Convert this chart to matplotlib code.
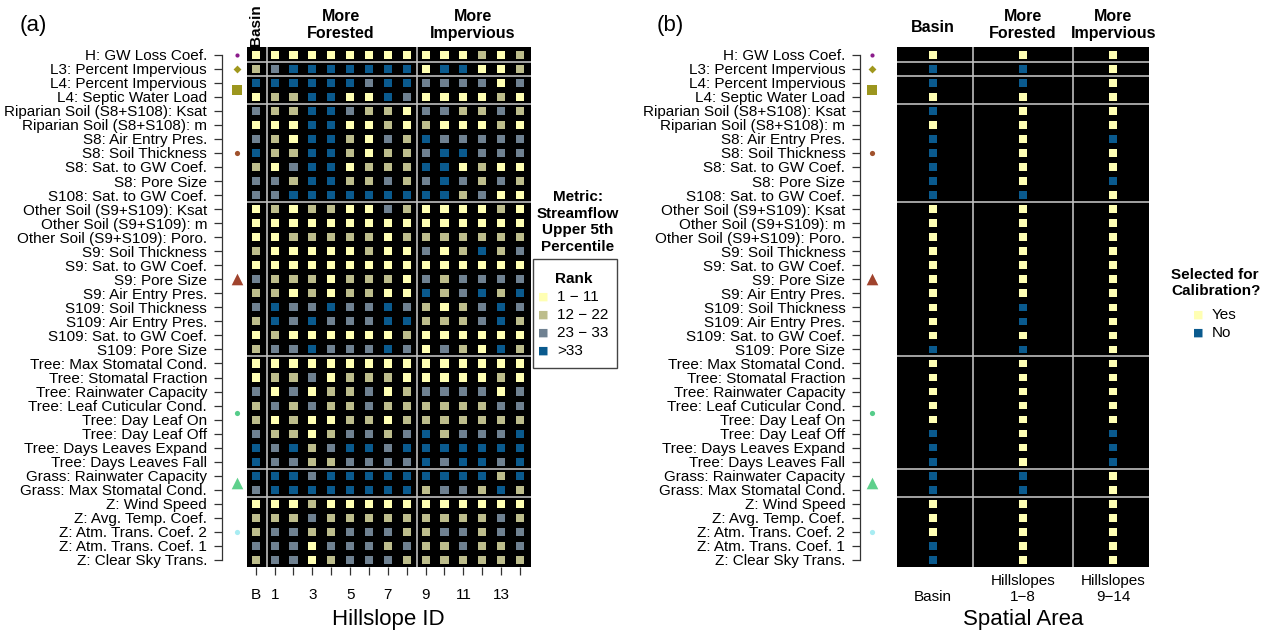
import matplotlib
matplotlib.use("Agg")
import matplotlib.pyplot as plt
import matplotlib.transforms as mtransforms
from matplotlib.patches import Rectangle

plt.rcParams['font.family'] = ['Liberation Sans', 'DejaVu Sans']

# ---- data ----
param_labels = [
    "H: GW Loss Coef.", "L3: Percent Impervious", "L4: Percent Impervious",
    "L4: Septic Water Load", "Riparian Soil (S8+S108): Ksat", "Riparian Soil (S8+S108): m",
    "S8: Air Entry Pres.", "S8: Soil Thickness", "S8: Sat. to GW Coef.", "S8: Pore Size",
    "S108: Sat. to GW Coef.", "Other Soil (S9+S109): Ksat", "Other Soil (S9+S109): m",
    "Other Soil (S9+S109): Poro.", "S9: Soil Thickness", "S9: Sat. to GW Coef.",
    "S9: Pore Size", "S9: Air Entry Pres.", "S109: Soil Thickness", "S109: Air Entry Pres.",
    "S109: Sat. to GW Coef.", "S109: Pore Size", "Tree: Max Stomatal Cond.",
    "Tree: Stomatal Fraction", "Tree: Rainwater Capacity", "Tree: Leaf Cuticular Cond.",
    "Tree: Day Leaf On", "Tree: Day Leaf Off", "Tree: Days Leaves Expand",
    "Tree: Days Leaves Fall", "Grass: Rainwater Capacity", "Grass: Max Stomatal Cond.",
    "Z: Wind Speed", "Z: Avg. Temp. Coef.", "Z: Atm. Trans. Coef. 2",
    "Z: Atm. Trans. Coef. 1", "Z: Clear Sky Trans.",
]

hillslope_ids = ['B', '1', '2', '3', '4', '5', '6', '7', '8', '9', '10', '11', '12', '13', '14']
shown_ticks = ['B', '1', '', '3', '', '5', '', '7', '', '9', '', '11', '', '13', '']

# rank class per parameter (rows) and hillslope (B, 1..14): 1 = 1-11, 2 = 12-22, 3 = 23-33, 4 = >33
rank_class = [
    [1, 1, 1, 1, 1, 1, 1, 1, 1, 1, 1, 1, 2, 1, 2],
    [2, 3, 4, 4, 4, 4, 4, 4, 4, 1, 4, 4, 1, 1, 2],
    [4, 4, 4, 4, 4, 4, 3, 4, 4, 3, 3, 3, 3, 1, 3],
    [1, 2, 2, 4, 4, 1, 1, 4, 3, 1, 1, 1, 1, 2, 1],
    [3, 2, 2, 4, 4, 3, 2, 2, 1, 3, 3, 2, 2, 3, 2],
    [1, 1, 1, 4, 4, 1, 1, 2, 1, 2, 1, 1, 1, 2, 1],
    [3, 2, 1, 4, 4, 2, 1, 3, 2, 4, 3, 3, 3, 3, 3],
    [4, 2, 2, 4, 4, 2, 1, 2, 2, 3, 4, 4, 3, 3, 3],
    [2, 1, 3, 4, 4, 1, 2, 2, 2, 4, 4, 1, 2, 1, 1],
    [3, 3, 2, 4, 4, 2, 2, 3, 2, 3, 4, 3, 2, 3, 2],
    [3, 3, 4, 4, 4, 4, 4, 4, 4, 4, 4, 2, 3, 1, 1],
    [1, 2, 1, 2, 2, 1, 1, 3, 2, 1, 1, 1, 1, 2, 1],
    [1, 1, 1, 1, 1, 1, 1, 1, 1, 1, 1, 1, 1, 1, 1],
    [1, 1, 2, 2, 2, 2, 2, 1, 2, 2, 2, 2, 2, 2, 2],
    [2, 1, 1, 1, 1, 1, 2, 1, 1, 3, 1, 2, 4, 2, 3],
    [1, 1, 1, 1, 1, 1, 1, 1, 1, 1, 1, 1, 1, 1, 1],
    [3, 2, 2, 2, 1, 2, 2, 2, 1, 3, 2, 3, 3, 3, 3],
    [2, 2, 1, 2, 1, 2, 2, 1, 1, 4, 2, 3, 4, 2, 4],
    [3, 4, 3, 3, 4, 3, 3, 4, 3, 2, 1, 2, 3, 4, 3],
    [2, 4, 3, 4, 3, 3, 3, 4, 4, 2, 2, 2, 3, 4, 2],
    [1, 2, 1, 1, 1, 1, 1, 1, 2, 1, 1, 1, 1, 1, 1],
    [2, 3, 3, 4, 3, 3, 3, 4, 3, 1, 3, 2, 1, 4, 2],
    [1, 1, 1, 1, 1, 1, 1, 1, 1, 1, 1, 1, 1, 1, 1],
    [1, 2, 2, 3, 1, 2, 2, 2, 1, 1, 1, 1, 1, 2, 1],
    [3, 1, 3, 1, 2, 2, 3, 1, 2, 3, 3, 3, 3, 1, 3],
    [2, 3, 2, 3, 2, 2, 3, 2, 2, 2, 2, 2, 2, 3, 3],
    [2, 1, 2, 1, 1, 2, 2, 1, 2, 2, 2, 2, 2, 2, 2],
    [3, 2, 2, 1, 2, 3, 3, 2, 3, 4, 2, 3, 3, 3, 4],
    [4, 3, 4, 2, 3, 4, 4, 3, 4, 4, 4, 4, 4, 4, 4],
    [4, 3, 3, 2, 2, 3, 3, 3, 3, 4, 3, 4, 4, 3, 4],
    [4, 4, 4, 3, 4, 4, 4, 4, 4, 4, 4, 4, 4, 2, 4],
    [3, 4, 4, 4, 4, 4, 4, 4, 4, 2, 3, 3, 2, 4, 2],
    [1, 1, 1, 2, 1, 1, 1, 1, 1, 1, 1, 1, 1, 1, 1],
    [2, 2, 2, 3, 2, 2, 2, 2, 2, 2, 2, 2, 2, 3, 2],
    [2, 3, 3, 2, 2, 3, 3, 3, 2, 2, 3, 3, 2, 3, 3],
    [3, 3, 3, 1, 3, 3, 3, 2, 3, 2, 2, 3, 2, 2, 3],
    [2, 3, 3, 1, 2, 3, 3, 3, 2, 2, 2, 2, 2, 2, 2],
]
rank_bins = ['1 \u2212 11', '12 \u2212 22', '23 \u2212 33', '>33']

spatial_areas = ['Basin', 'Hillslopes\n1\u22128', 'Hillslopes\n9\u221214']
# 1 = selected for calibration, 0 = not selected
selected_basin = [1, 0, 0, 1, 0, 1, 0, 0, 0, 0, 0, 1, 1, 1, 1, 1, 1, 1, 1, 1, 1, 0,
                  1, 1, 1, 1, 1, 0, 0, 0, 0, 0, 1, 1, 1, 0, 0]
selected_forested = [1, 0, 0, 1, 1, 1, 1, 1, 1, 1, 0, 1, 1, 1, 1, 1, 1, 1, 0, 0, 1, 0,
                     1, 1, 1, 1, 1, 1, 1, 1, 0, 0, 1, 1, 1, 1, 1]
selected_impervious = [1, 1, 1, 1, 1, 1, 0, 1, 1, 0, 1, 1, 1, 1, 1, 1, 1, 1, 1, 1, 1, 1,
                       1, 1, 1, 1, 1, 0, 0, 0, 1, 1, 1, 1, 1, 1, 1]
selected_labels = ['Yes', 'No']

# model component groups (row centre of each group) and group breaks
group_rows = [1, 2, 3.5, 8, 17, 26.5, 31.5, 35]
row_breaks = [1.5, 2.5, 4.5, 11.5, 22.5, 30.5, 32.5]

# ---- styles ----
rank_colors = ['#FFFFB3', '#BDBD8C', '#6F8191', '#0A5A8E']
yes_no_colors = ['#FFFFB3', '#0A5A8E']
group_markers = ['o', 'D', 's', 'o', '^', 'o', '^', 'o']
group_colors = ['#8B1C8B', '#A0981E', '#9C961E', '#A0522D', '#A0432D', '#55CC8A', '#5ED08C', '#A8ECF2']
group_sizes = [9, 16, 42, 14, 70, 14, 70, 14]
sep_color = '#BEBEBE'
axis_color = '#333333'

W, H = 1262, 635
fig = plt.figure(figsize=(W / 100, H / 100), dpi=100)


def fx(px):
    return px / W


def fy(py):
    return 1 - py / H


n_rows = len(param_labels)
rows = list(range(1, n_rows + 1))


def setup_axis(ax, outward):
    ax.set_facecolor('black')
    ax.set_ylim(n_rows + 0.48, 0.43)
    for s in ['top', 'right', 'bottom']:
        ax.spines[s].set_visible(False)
    ax.spines['left'].set_position(('outward', outward))
    ax.spines['left'].set_bounds(1, n_rows)
    ax.spines['left'].set_color(axis_color)
    ax.spines['left'].set_linewidth(0.9)
    ax.set_yticks(rows)
    ax.set_yticklabels(param_labels, fontsize=11)
    ax.tick_params(axis='y', length=5.5, width=0.9, color=axis_color, pad=5)
    for rb in row_breaks:
        ax.axhline(rb, color=sep_color, lw=1.2, zorder=1)
    trans = mtransforms.blended_transform_factory(ax.transAxes, ax.transData)
    return trans


# ---- panel (a) ----
axA = fig.add_axes([fx(246.7), fy(566.7), (530.7 - 246.7) / W, (566.7 - 46.7) / H])
transA = setup_axis(axA, 18)
axA.set_xlim(-0.48, 14.57)
for xb in [0.58, 8.53]:
    axA.axvline(xb, color=sep_color, lw=1.2, zorder=1)

xs, ys, cs = [], [], []
for i, row in enumerate(rank_class):
    for j, rc in enumerate(row):
        xs.append(j)
        ys.append(i + 1)
        cs.append(rank_colors[rc - 1])
axA.scatter(xs, ys, c=cs, marker='s', s=34, linewidths=0, zorder=3)

axA.set_xticks(range(len(hillslope_ids)))
axA.set_xticklabels(shown_ticks, fontsize=11)
axA.tick_params(axis='x', length=5.5, width=0.9, color=axis_color, pad=10)

for r, m, c, s in zip(group_rows, group_markers, group_colors, group_sizes):
    axA.scatter([-0.033], [r], marker=m, color=c, s=s, linewidths=0,
                transform=transA, clip_on=False, zorder=4)

topA = mtransforms.blended_transform_factory(axA.transData, axA.transAxes)
ytop = (566.7 - 25) / 520
axA.text(0, ytop, 'Basin', rotation=90, ha='center', va='center', fontsize=11,
         fontweight='bold', transform=topA)
axA.text(4.5, ytop, 'More\nForested', ha='center', va='center', fontsize=11.5,
         fontweight='bold', transform=topA, linespacing=1.15)
axA.text(11.5, ytop, 'More\nImpervious', ha='center', va='center', fontsize=11.5,
         fontweight='bold', transform=topA, linespacing=1.15)

fig.text(fx(20), fy(25), '(a)', fontsize=16, ha='left', va='center')
fig.text(fx(388.7), fy(620), 'Hillslope ID', fontsize=16, ha='center', va='center')

# rank legend
fig.text(fx(578), fy(222), 'Metric:\nStreamflow\nUpper 5th\nPercentile', fontsize=11,
         fontweight='bold', ha='center', va='center', linespacing=1.22)
fig.patches.append(Rectangle((fx(532.7), fy(368)), (616.7 - 532.7) / W, (368 - 259) / H,
                             transform=fig.transFigure, fill=False, edgecolor='#444444', lw=1))
fig.text(fx(574), fy(279), 'Rank', fontsize=11, fontweight='bold', ha='center', va='center')
for k, (lab, col) in enumerate(zip(rank_bins, rank_colors)):
    yy = 297 + k * 18
    fig.text(fx(543), fy(yy), '\u25A0', color=col, fontsize=8, ha='center', va='center',
             family='DejaVu Sans')
    fig.text(fx(557), fy(yy), lab, fontsize=11, ha='left', va='center')

# ---- panel (b) ----
axB = fig.add_axes([fx(896.7), fy(566.7), (1149.3 - 896.7) / W, (566.7 - 46.7) / H])
transB = setup_axis(axB, 26.5)
axB.set_xlim(0.601, 3.399)
for xb in [1.443, 2.554]:
    axB.axvline(xb, color=sep_color, lw=1.2, zorder=1)

for k, sel in enumerate([selected_basin, selected_forested, selected_impervious]):
    cols = [yes_no_colors[0] if v == 1 else yes_no_colors[1] for v in sel]
    axB.scatter([k + 1] * len(sel), rows, c=cols, marker='s', s=30, linewidths=0, zorder=3)

axB.set_xticks([1, 2, 3])
axB.set_xticklabels(['', '', ''])
axB.tick_params(axis='x', length=0)
botB = mtransforms.blended_transform_factory(axB.transData, axB.transAxes)
ybot = -(604 - 566.7) / 520
for k, lab in enumerate(spatial_areas):
    axB.text(k + 1, ybot, lab, ha='center', va='bottom', fontsize=11,
             transform=botB, linespacing=1.15)

for r, m, c, s in zip(group_rows, group_markers, group_colors, group_sizes):
    axB.scatter([-0.099], [r], marker=m, color=c, s=s, linewidths=0,
                transform=transB, clip_on=False, zorder=4)

topB = mtransforms.blended_transform_factory(axB.transData, axB.transAxes)
axB.text(1, (566.7 - 28) / 520, 'Basin', ha='center', va='center', fontsize=11.5,
         fontweight='bold', transform=topB)
axB.text(2, ytop, 'More\nForested', ha='center', va='center', fontsize=11.5,
         fontweight='bold', transform=topB, linespacing=1.15)
axB.text(3, ytop, 'More\nImpervious', ha='center', va='center', fontsize=11.5,
         fontweight='bold', transform=topB, linespacing=1.15)

fig.text(fx(657), fy(25), '(b)', fontsize=16, ha='left', va='center')
fig.text(fx(1023), fy(620), 'Spatial Area', fontsize=16, ha='center', va='center')

# selection legend
fig.text(fx(1171), fy(283), 'Selected for\nCalibration?', fontsize=11, fontweight='bold',
         ha='left', va='center', linespacing=1.22)
for k, (lab, col) in enumerate(zip(selected_labels, yes_no_colors)):
    yy = 315 + k * 18
    fig.text(fx(1198), fy(yy), '\u25A0', color=col, fontsize=8, ha='center', va='center',
             family='DejaVu Sans')
    fig.text(fx(1212), fy(yy), lab, fontsize=11, ha='left', va='center')

fig.savefig('out.png', dpi=100, facecolor='white')
